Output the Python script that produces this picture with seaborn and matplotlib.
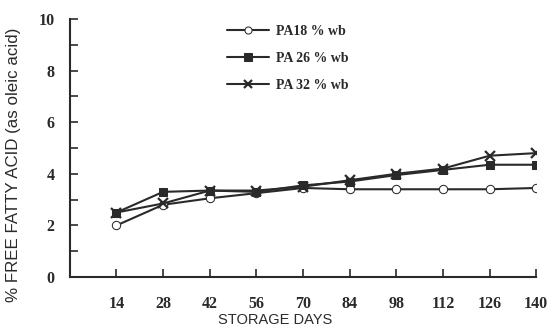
import numpy as np
import pandas as pd
import matplotlib
matplotlib.use("Agg")
import matplotlib.pyplot as plt
import seaborn as sns
from matplotlib.ticker import MultipleLocator

days = [14, 28, 42, 56, 70, 84, 98, 112, 126, 140]
pa18 = [2.0, 2.8, 3.05, 3.25, 3.45, 3.4, 3.4, 3.4, 3.4, 3.45]
pa26 = [2.5, 3.3, 3.35, 3.3, 3.55, 3.7, 3.95, 4.15, 4.35, 4.35]
pa32 = [2.5, 2.85, 3.35, 3.35, 3.5, 3.75, 4.0, 4.2, 4.7, 4.8]
series_names = ["PA18 % wb", "PA 26 % wb", "PA 32 % wb"]

df = pd.DataFrame({
    "days": days * 3,
    "ffa": pa18 + pa26 + pa32,
    "series": np.repeat(series_names, len(days)),
})

sns.set_style("white")
plt.rcParams["font.family"] = ["Liberation Serif", "DejaVu Serif"]

fig = plt.figure(figsize=(5.5, 3.31), dpi=100)
ax = fig.add_axes([0.127, 0.163, 0.848, 0.78])

styles = {
    "PA18 % wb": dict(marker="o", mfc="white", ms=6),
    "PA 26 % wb": dict(marker="s", mfc="#2a2a2a", ms=6),
    "PA 32 % wb": dict(marker="x", mfc="none", ms=7, mew=1.6),
}
for name in series_names:
    sub = df[df["series"] == name]
    sns.lineplot(data=sub, x="days", y="ffa", ax=ax, color="#2a2a2a",
                 lw=1.5, mec="#2a2a2a", label=name, **styles[name])

ax.set_xlim(0, 140)
ax.set_ylim(0, 10)
ax.set_xticks(days)
ax.yaxis.set_major_locator(MultipleLocator(2))
ax.yaxis.set_minor_locator(MultipleLocator(1))
ax.tick_params(axis="both", which="both", direction="in", colors="#2a2a2a",
               labelcolor="#2a2a2a")
ax.tick_params(axis="y", which="major", length=6, width=1.2, pad=11, left=True)
ax.tick_params(axis="y", which="minor", length=6, width=1.2, left=True)
ax.tick_params(axis="x", length=6, width=1.2, pad=14, bottom=True)
for lab in ax.get_xticklabels() + ax.get_yticklabels():
    lab.set_fontweight("bold")
    lab.set_fontsize(11.5)

sns.despine(ax=ax)
for s in ["left", "bottom"]:
    ax.spines[s].set_linewidth(1.5)
    ax.spines[s].set_color("#2a2a2a")

ax.set_xlabel("STORAGE DAYS", fontsize=10.5, family="Liberation Sans",
              color="#2a2a2a")
ax.xaxis.set_label_coords(0.44, -0.14)
ax.set_ylabel("% FREE FATTY ACID (as oleic acid)", fontsize=12.2,
              family="Liberation Sans", color="#2a2a2a")
ax.yaxis.set_label_coords(-0.105, 0.435)

leg = ax.legend(loc="upper left", bbox_to_anchor=(0.31, 1.025), frameon=False,
                prop=dict(family="Liberation Serif", weight="bold", size=10),
                handlelength=3.0, handletextpad=0.5, labelspacing=1.0,
                markerscale=0.85)
for t in leg.get_texts():
    t.set_color("#2a2a2a")

fig.savefig("out.png", dpi=100)
